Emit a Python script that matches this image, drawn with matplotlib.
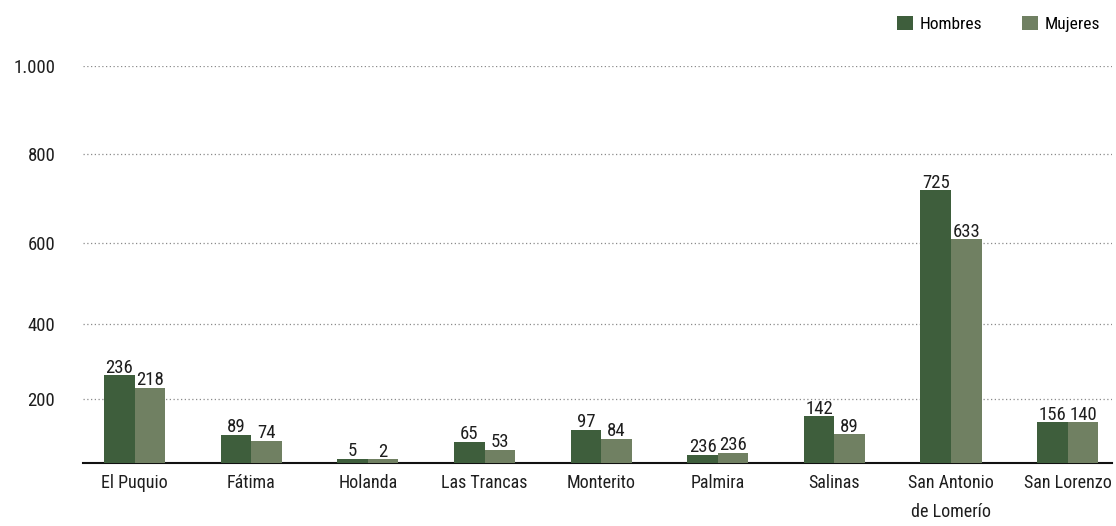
import numpy as np
import matplotlib
matplotlib.use("Agg")
import matplotlib.pyplot as plt

plt.rcParams['font.family'] = ['Roboto Condensed', 'DejaVu Sans']
plt.rcParams['font.weight'] = 'normal'

# data
categories = ["El Puquio", "Fátima", "Holanda", "Las Trancas", "Monterito",
              "Palmira", "Salinas", "San Antonio\nde Lomerío", "San Lorenzo"]
hombres = [263, 88, 13, 67, 103, 26, 146, 719, 127]
mujeres = [229, 69, 12, 41, 75, 32, 90, 609, 127]
hombres_lbl = ["236", "89", "5", "65", "97", "236", "142", "725", "156"]
mujeres_lbl = ["218", "74", "2", "53", "84", "236", "89", "633", "140"]
yticks = [200, 400, 600, 800, 1000]
ytick_lbl = ["200", "400", "600", "800", "1.000"]

# the source axis is not evenly spaced: map tick values to their drawn heights
axis_vals = [0, 200, 400, 600, 800, 1000]
axis_pos = [0, 64.6, 139.3, 220, 309, 397.6]


def fwd(v):
    return np.interp(v, axis_vals, axis_pos)


def inv(p):
    return np.interp(p, axis_pos, axis_vals)


c_h = "#3e5e3c"
c_m = "#708062"
txt = "#1e1e1e"

fig = plt.figure(figsize=(11.16, 5.26), dpi=100)
ax = fig.add_axes([0.0744, 0.1192, 0.922, 0.7559])
ax.set_yscale('function', functions=(fwd, inv))

x = np.arange(len(categories))
w = 0.262
b1 = ax.bar(x - w / 2, hombres, w, color=c_h, label="Hombres", zorder=3)
b2 = ax.bar(x + w / 2, mujeres, w, color=c_m, label="Mujeres", zorder=3)

for bars, lbls in ((b1, hombres_lbl), (b2, mujeres_lbl)):
    for r, t in zip(bars, lbls):
        ax.annotate(t, (r.get_x() + r.get_width() / 2, r.get_height()),
                    xytext=(0, -1), textcoords="offset points",
                    ha="center", va="bottom", fontsize=13.5, color=txt)

ax.set_ylim(0, 1000)
ax.set_xlim(-0.443, len(categories) - 1 + 0.38)
ax.set_yticks(yticks)
ax.set_yticklabels(ytick_lbl)
ax.set_xticks(x)
ax.set_xticklabels(categories, linespacing=1.75, va="top")
ax.tick_params(axis="y", length=0, pad=20, labelsize=13.5, labelcolor=txt)
ax.tick_params(axis="x", length=0, pad=8, labelsize=13, labelcolor=txt)

ax.yaxis.grid(True, linestyle=(0, (1, 2)), color="#8a8a8a", linewidth=0.9)
ax.set_axisbelow(True)
for s in ("top", "right", "left"):
    ax.spines[s].set_visible(False)
ax.spines["bottom"].set_color("#111111")
ax.spines["bottom"].set_linewidth(1.5)

fig.legend(loc="upper right", bbox_to_anchor=(1.0, 1.0), ncol=2,
           frameon=False, fontsize=12.5, handlelength=0.9, handleheight=0.9,
           handletextpad=0.4, columnspacing=2.3)

fig.savefig("out.png", dpi=100)
